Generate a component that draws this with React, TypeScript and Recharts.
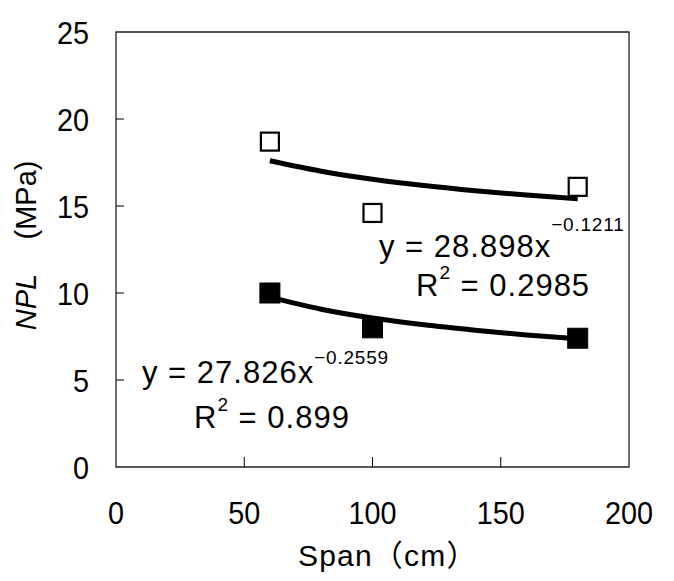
import { ComposedChart, Line, ReferenceArea, Scatter, XAxis, YAxis } from 'recharts';

const SPAN = [60, 100, 180];
const NPL_OPEN = [18.7, 14.6, 16.1];
const NPL_FILLED = [10.0, 8.0, 7.4];

// power-law trend lines
const TREND_SPAN = [60, 80, 100, 120, 140, 160, 180];
const TREND_OPEN = [17.6, 17.0, 16.54, 16.18, 15.88, 15.63, 15.41];
const TREND_FILLED = [9.76, 9.07, 8.56, 8.17, 7.86, 7.59, 7.37];

const X_TICKS = [0, 50, 100, 150, 200];
const Y_TICKS = [0, 5, 10, 15, 20, 25];

const W = 674;
const H = 581;
const PLOT = { left: 116, right: 629, top: 32, bottom: 467 };
const Y_AXIS_W = 40;
const X_AXIS_H = 40;
const FONT = "'Liberation Sans', Arial, 'Noto Sans CJK JP', sans-serif";

const openData = SPAN.map((x, i) => ({ x, y: NPL_OPEN[i] }));
const filledData = SPAN.map((x, i) => ({ x, y: NPL_FILLED[i] }));
const trendOpen = TREND_SPAN.map((x, i) => ({ x, y: TREND_OPEN[i] }));
const trendFilled = TREND_SPAN.map((x, i) => ({ x, y: TREND_FILLED[i] }));

const OpenSquare = (p: any) => (
  <rect x={p.cx - 9} y={p.cy - 9} width={18} height={18} fill="#fff" stroke="#000" strokeWidth={2.2} />
);
const FilledSquare = (p: any) => (
  <rect x={p.cx - 10} y={p.cy - 10} width={20} height={20} fill="#000" stroke="#000" strokeWidth={1} />
);

const renderYTick = (p: any) => {
  const v = p.payload.value;
  const inner = v !== 0 && v !== 25;
  return (
    <g key={`y-${v}`}>
      {inner && <line x1={PLOT.left} x2={PLOT.left + 8} y1={p.y} y2={p.y} stroke="#000" strokeWidth={1} />}
      <text
        transform={`translate(89,${p.y}) scale(0.9,1)`}
        dy="0.36em"
        textAnchor="end"
        fontSize={32}
        fontFamily={FONT}
        fill="#000"
      >
        {v}
      </text>
    </g>
  );
};

const renderXTick = (p: any) => {
  const v = p.payload.value;
  const inner = v !== 0 && v !== 200;
  return (
    <g key={`x-${v}`}>
      {inner && <line x1={p.x} x2={p.x} y1={PLOT.bottom} y2={PLOT.bottom - 10} stroke="#000" strokeWidth={1} />}
      <text
        transform={`translate(${p.x},512) scale(0.9,1)`}
        dy="0.36em"
        textAnchor="middle"
        fontSize={32}
        fontFamily={FONT}
        fill="#000"
      >
        {v}
      </text>
    </g>
  );
};

export default function App() {
  return (
    <div style={{ position: 'absolute', left: 0, top: 0, width: W, height: H, background: '#fff' }}>
      <ComposedChart
        width={W}
        height={H}
        margin={{
          left: PLOT.left - Y_AXIS_W,
          right: W - PLOT.right,
          top: PLOT.top,
          bottom: H - PLOT.bottom - X_AXIS_H,
        }}
      >
        <XAxis
          type="number"
          dataKey="x"
          domain={[0, 200]}
          ticks={X_TICKS}
          height={X_AXIS_H}
          axisLine={false}
          tickLine={false}
          tick={renderXTick}
          interval={0}
        />
        <YAxis
          type="number"
          dataKey="y"
          domain={[0, 25]}
          ticks={Y_TICKS}
          width={Y_AXIS_W}
          axisLine={false}
          tickLine={false}
          tick={renderYTick}
          interval={0}
        />
        <ReferenceArea x1={0} x2={200} y1={0} y2={25} fill="none" stroke="#222" strokeWidth={1.3} />
        <Line
          data={trendOpen}
          dataKey="y"
          type="monotone"
          stroke="#000"
          strokeWidth={5}
          dot={false}
          isAnimationActive={false}
        />
        <Line
          data={trendFilled}
          dataKey="y"
          type="monotone"
          stroke="#000"
          strokeWidth={5}
          dot={false}
          isAnimationActive={false}
        />
        <Scatter data={openData} dataKey="y" shape={<OpenSquare />} isAnimationActive={false} />
        <Scatter data={filledData} dataKey="y" shape={<FilledSquare />} isAnimationActive={false} />
      </ComposedChart>

      <svg width={W} height={H} style={{ position: 'absolute', left: 0, top: 0, pointerEvents: 'none' }}>
        <g fontFamily={FONT} fill="#000">
          <text x={379} y={257} fontSize={31} letterSpacing={1}>
            y = 28.898x
            <tspan dy={-26} fontSize={19} letterSpacing={0.8}>−0.1211</tspan>
          </text>
          <text x={416} y={296} fontSize={31} letterSpacing={1}>
            R<tspan dy={-17} fontSize={19}>2</tspan>
            <tspan dy={17}> = 0.2985</tspan>
          </text>
          <text x={142} y={383} fontSize={31} letterSpacing={1}>
            y = 27.826x
            <tspan dy={-19} fontSize={19} letterSpacing={0.8}>−0.2559</tspan>
          </text>
          <text x={194} y={428} fontSize={31} letterSpacing={1}>
            R<tspan dy={-17} fontSize={19}>2</tspan>
            <tspan dy={17}> = 0.899</tspan>
          </text>
          <text x={298} y={566} fontSize={30} letterSpacing={1.2}>
            Span（cm）
          </text>
          <text transform="translate(36,302) rotate(-90)" textAnchor="middle" fontSize={29} fontStyle="italic">
            NPL
          </text>
          <text transform="translate(36,200) rotate(-90)" textAnchor="middle" fontSize={29}>
            (MPa)
          </text>
        </g>
      </svg>
    </div>
  );
}
